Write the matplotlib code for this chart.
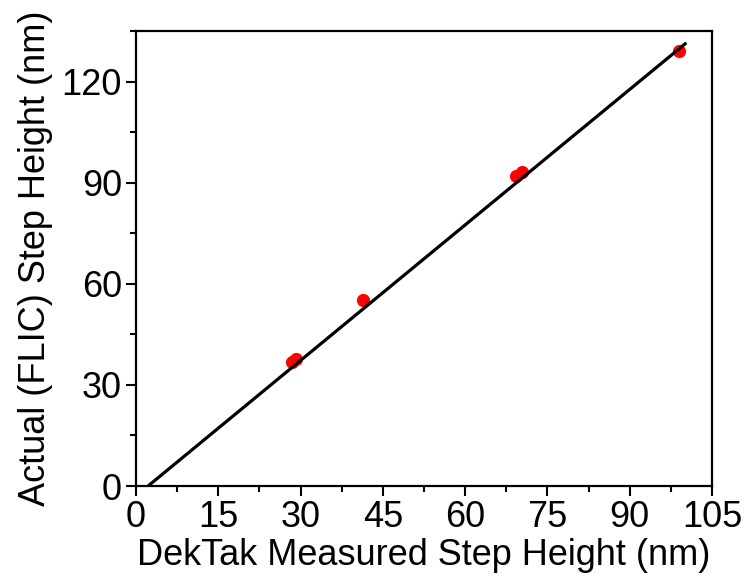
import matplotlib
matplotlib.use("Agg")
import matplotlib.pyplot as plt
from matplotlib.ticker import MultipleLocator

plt.rcParams['font.family'] = ['Liberation Sans', 'DejaVu Sans']

dektak = [28.4, 29.1, 41.3, 69.3, 70.3, 98.9]
flic = [36.8, 37.8, 55.3, 92.1, 93.1, 129.2]
fit_x = [2.2, 100.1]
fit_y = [0.0, 131.2]

x_ticks = [0, 15, 30, 45, 60, 75, 90, 105]
y_ticks = [0, 30, 60, 90, 120]

fig = plt.figure(figsize=(7.46, 5.85), dpi=100)
ax = fig.add_axes([0.1823, 0.1692, 0.7721, 0.7778])

ax.plot(dektak, flic, 'o', color='#ff0000', markersize=9.5, zorder=3, markeredgewidth=0)
ax.plot(fit_x, fit_y, '-', color='black', linewidth=2.3, zorder=4)

ax.set_xlim(0, 105)
ax.set_ylim(0, 135)
ax.set_xticks(x_ticks)
ax.set_yticks(y_ticks)
ax.xaxis.set_minor_locator(MultipleLocator(7.5))
ax.yaxis.set_minor_locator(MultipleLocator(15))
ax.tick_params(axis='both', which='major', direction='out', length=7, width=1.5, labelsize=26, pad=3)
ax.tick_params(axis='both', which='minor', direction='out', length=4, width=1.5)
for s in ax.spines.values():
    s.set_linewidth(1.6)

ax.set_xlabel('DekTak Measured Step Height (nm)', fontsize=26, labelpad=2)
ax.set_ylabel('Actual (FLIC) Step Height (nm)', fontsize=26, labelpad=6)

fig.savefig('out.png', dpi=100)
